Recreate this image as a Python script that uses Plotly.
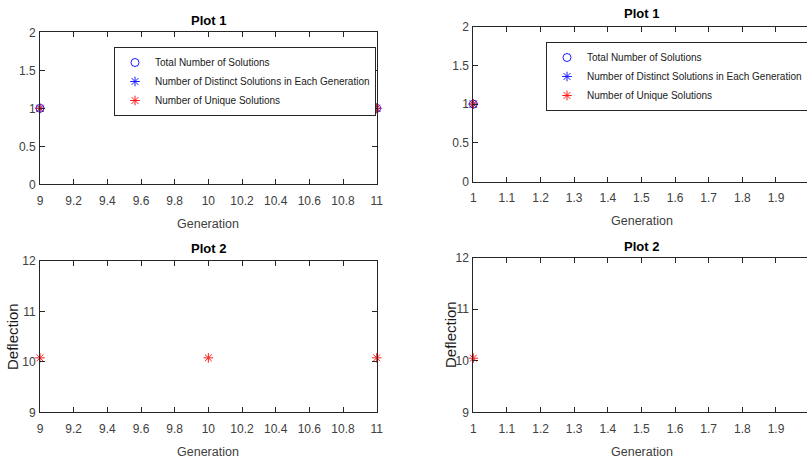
import plotly.graph_objects as go

W, H = 807, 463

# ---- data -------------------------------------------------------------
gen_a = [9, 10, 11]
total_a = [1, 1, 1]
distinct_a = [1, 1, 1]
unique_a = [1, 1, 1]
deflection_a = [10.08, 10.08, 10.08]

gen_b = [1, 2]
total_b = [1, 1]
distinct_b = [1, 1]
unique_b = [1, 1]
deflection_b = [10.05, 10.05]

series_names = [
    "Total Number of Solutions",
    "Number of Distinct Solutions in Each Generation",
    "Number of Unique Solutions",
]

xticks_a = [9, 9.2, 9.4, 9.6, 9.8, 10, 10.2, 10.4, 10.6, 10.8, 11]
xticks_a_text = ["9", "9.2", "9.4", "9.6", "9.8", "10", "10.2", "10.4", "10.6", "10.8", "11"]
xticks_b = [1, 1.1, 1.2, 1.3, 1.4, 1.5, 1.6, 1.7, 1.8, 1.9, 2]
xticks_b_text = ["1", "1.1", "1.2", "1.3", "1.4", "1.5", "1.6", "1.7", "1.8", "1.9", "2"]
yticks_count = [0, 0.5, 1, 1.5, 2]
yticks_count_text = ["0", "0.5", "1", "1.5", "2"]
yticks_defl = [9, 10, 11, 12]
yticks_defl_text = ["9", "10", "11", "12"]

# ---- styling ----------------------------------------------------------
FONT = "Liberation Sans, Arial, Helvetica, sans-serif"
AX = "#262626"
TICKTXT = "#404040"
BLUE = "#1a1aff"
RED = "#ff1a1a"


def fx(px):
    return px / W


def fy(py):
    return 1 - py / H


fig = go.Figure()


def add_counts(xs, tot, dis, uni, xa, ya, legend):
    fig.add_trace(go.Scatter(
        x=xs, y=tot, mode="markers", name=series_names[0], xaxis=xa, yaxis=ya,
        legend=legend, cliponaxis=False,
        marker=dict(symbol="circle-open", size=8, color=BLUE, line=dict(width=1, color=BLUE)),
    ))
    fig.add_trace(go.Scatter(
        x=xs, y=dis, mode="markers", name=series_names[1], xaxis=xa, yaxis=ya,
        legend=legend, cliponaxis=False,
        marker=dict(symbol="asterisk-open", size=8, color=BLUE, line=dict(width=1, color=BLUE)),
    ))
    fig.add_trace(go.Scatter(
        x=xs, y=uni, mode="markers", name=series_names[2], xaxis=xa, yaxis=ya,
        legend=legend, cliponaxis=False,
        marker=dict(symbol="asterisk-open", size=8, color=RED, line=dict(width=1, color=RED)),
    ))


def add_defl(xs, ys, xa, ya):
    fig.add_trace(go.Scatter(
        x=xs, y=ys, mode="markers", showlegend=False, xaxis=xa, yaxis=ya,
        cliponaxis=False,
        marker=dict(symbol="asterisk-open", size=8, color=RED, line=dict(width=1, color=RED)),
    ))


add_counts(gen_a, total_a, distinct_a, unique_a, "x", "y", "legend")
add_defl(gen_a, deflection_a, "x2", "y2")
add_counts(gen_b, total_b, distinct_b, unique_b, "x3", "y3", "legend2")
add_defl(gen_b, deflection_b, "x4", "y4")


def axis(domain, rng, tv, tt, anchor, mirror, standoff):
    return dict(
        domain=domain, range=rng, tickvals=tv, ticktext=tt, anchor=anchor,
        showline=True, linecolor=AX, linewidth=1, mirror=mirror,
        ticks="inside", ticklen=5, tickwidth=1, tickcolor=AX,
        showgrid=False, zeroline=False, fixedrange=True, automargin=False,
        ticklabelstandoff=standoff,
        tickfont=dict(family=FONT, size=12, color=TICKTXT),
    )


xl = [fx(40), fx(376.7)]
xr = [fx(473.3), 1.0]
xr_end = 1 + (W - 473.3) / 336.3

legend_style = dict(
    xanchor="center", yanchor="top",
    bgcolor="white", bordercolor=AX, borderwidth=1,
    font=dict(family=FONT, size=10, color="#1a1a1a"),
    tracegroupgap=0, itemwidth=30,
)

fig.update_layout(
    width=W, height=H,
    margin=dict(l=0, r=0, t=0, b=0, autoexpand=False),
    paper_bgcolor="white", plot_bgcolor="white",
    xaxis=axis(xl, [9, 11], xticks_a, xticks_a_text, "y", "ticks", 5),
    yaxis=axis([fy(184.3), fy(32.3)], [0, 2], yticks_count, yticks_count_text, "x", "ticks", 1),
    xaxis2=axis(xl, [9, 11], xticks_a, xticks_a_text, "y2", "ticks", 5),
    yaxis2=axis([fy(412.3), fy(261)], [9, 12], yticks_defl, yticks_defl_text, "x2", "ticks", 1),
    xaxis3=axis(xr, [1, xr_end], xticks_b, xticks_b_text, "y3", "ticks", 5),
    yaxis3=axis([fy(181.7), fy(26.5)], [0, 2], yticks_count, yticks_count_text, "x3", False, 1),
    xaxis4=axis(xr, [1, xr_end], xticks_b, xticks_b_text, "y4", "ticks", 5),
    yaxis4=axis([fy(412.3), fy(257.7)], [9, 12], yticks_defl, yticks_defl_text, "x4", False, 1),
    legend=dict(x=fx(245), y=fy(47), **legend_style),
    legend2=dict(x=fx(677), y=fy(42), **legend_style),
    showlegend=True,
)

# Panel titles and axis labels
labels = [
    ("<b>Plot 1</b>", 208.3, 20, 0, 13, "#000000"),
    ("<b>Plot 2</b>", 208.3, 248.3, 0, 13, "#000000"),
    ("<b>Plot 1</b>", 641.7, 14, 0, 13, "#000000"),
    ("<b>Plot 2</b>", 641.7, 246, 0, 13, "#000000"),
    ("Generation", 208.3, 223.5, 0, 12.5, TICKTXT),
    ("Generation", 208.3, 451.7, 0, 12.5, TICKTXT),
    ("Generation", 641.7, 220.7, 0, 12.5, TICKTXT),
    ("Generation", 641.7, 451.7, 0, 12.5, TICKTXT),
    ("Deflection", 12, 337, -90, 15, "#1a1a1a"),
    ("Deflection", 450, 335, -90, 15, "#1a1a1a"),
]
for text, px, py, ang, size, col in labels:
    fig.add_annotation(
        text=text, x=fx(px), y=fy(py), xref="paper", yref="paper",
        xanchor="center", yanchor="middle", showarrow=False, textangle=ang,
        font=dict(family=FONT, size=size, color=col),
    )

fig.write_html("out.html")
